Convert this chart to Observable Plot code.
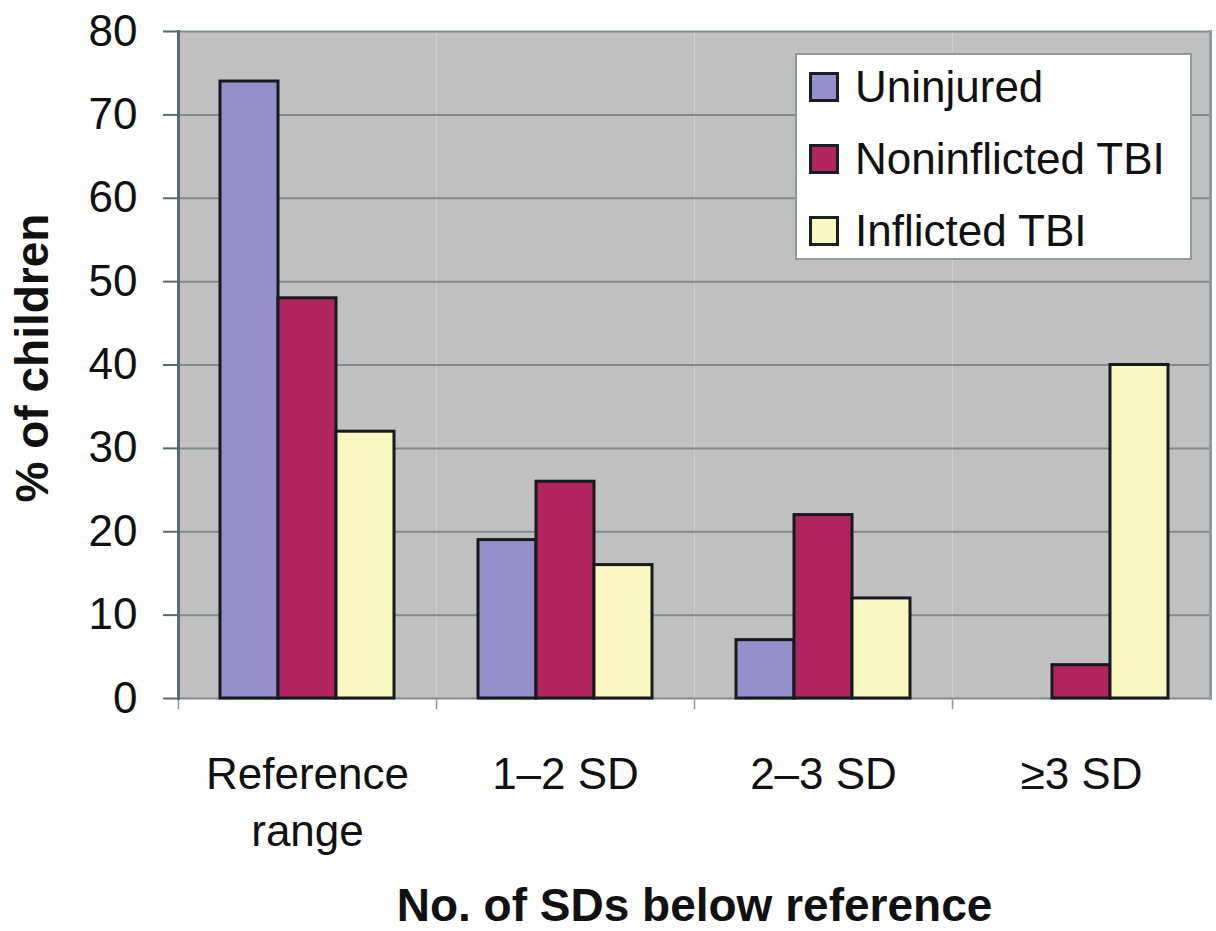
<!DOCTYPE html>
<html>
<head>
<meta charset="utf-8">
<script src="https://cdn.jsdelivr.net/npm/d3@7"></script>
<script src="https://cdn.jsdelivr.net/npm/@observablehq/plot@0.6"></script>
<style>
  html, body { margin: 0; padding: 0; background: #fff; }
  #wrap { position: relative; width: 1216px; height: 931px; font-family: "Liberation Sans", Arial, sans-serif; }
  #legend { position: absolute; left: 795px; top: 53px; width: 393px; height: 203px;
            background: #fff; border: 2px solid #8c9ba2; box-sizing: content-box; }
  .row { position: absolute; left: 0; height: 60px; display: flex; align-items: center; }
  .sw { width: 24px; height: 24px; border: 3px solid #1a1f22; margin-left: 12px; margin-right: 16px; }
  .lab { font-size: 44px; color: #111; white-space: nowrap; }
</style>
</head>
<body>
<div id="wrap"><div id="legend"></div></div>
<script>
const categories = ["Reference range", "1–2 SD", "2–3 SD", "≥3 SD"];
const series = ["Uninjured", "Noninflicted TBI", "Inflicted TBI"];
const uninjured = [74, 19, 7, 0];
const noninflicted = [48, 26, 22, 4];
const inflicted = [32, 16, 12, 40];
const yTicks = [0, 10, 20, 30, 40, 50, 60, 70, 80];
const colors = ["#9590c9", "#b0245f", "#fbf7c1"];
const xTitle = "No. of SDs below reference";
const yTitle = "% of children";

const values = [uninjured, noninflicted, inflicted];
const data = [];
categories.forEach((c, i) => series.forEach((s, j) => data.push({category: c, series: s, value: values[j][i]})));

const font = "Liberation Sans, Arial, sans-serif";

const chart = Plot.plot({
  width: 1216,
  height: 931,
  marginLeft: 178,
  marginRight: 6,
  marginTop: 31,
  marginBottom: 233,
  style: {fontFamily: font, background: "transparent"},
  fx: {domain: categories, padding: 0, label: null},
  x: {domain: series, paddingInner: 0, paddingOuter: 0.724, axis: null},
  y: {domain: [0, 80], label: null},
  color: {domain: series, range: colors},
  marks: [
    Plot.frame({fill: "#c0c0c0"}),
    Plot.gridY(yTicks, {stroke: "#7e8b92", strokeOpacity: 1, strokeWidth: 2}),
    Plot.frame({anchor: "right", fx: [categories[3]], stroke: "#8c9ba2", strokeWidth: 3}),
    Plot.frame({anchor: "left", stroke: "#8c9ba2", strokeWidth: 1.5, insetTop: 667, insetBottom: -10}),
    Plot.barY(data.filter(d => d.value > 0), {
      fx: "category", x: "series", y: "value", fill: "series",
      stroke: "#151a1c", strokeWidth: 3
    }),
    Plot.frame({anchor: "left", fx: [categories[0]], stroke: "#566a72", strokeWidth: 3}),
    Plot.axisY(yTicks, {
      tickSize: 15, tickPadding: 26, fontSize: 44, stroke: "#566a72", strokeWidth: 2,
      fill: "#111", label: null
    }),
    Plot.axisFx({
      anchor: "bottom", tickSize: 0, tickPadding: 50, fontSize: 44, fill: "#111",
      lineHeight: 1.3, label: null,
      tickFormat: d => d === "Reference range" ? "Reference\nrange" : d
    }),
    Plot.text([yTitle], {
      fx: [categories[0]], frameAnchor: "left", textAnchor: "middle", rotate: -90, dx: -145, dy: -7,
      fontSize: 46, fontWeight: "bold", fill: "#111"
    }),
    Plot.text([xTitle], {
      fx: [categories[2]], frameAnchor: "bottom-left", textAnchor: "middle", dy: 222,
      fontSize: 46, fontWeight: "bold", fill: "#111"
    })
  ]
});

document.getElementById("wrap").prepend(chart);

const legend = document.getElementById("legend");
series.forEach((s, j) => {
  const row = document.createElement("div");
  row.className = "row";
  row.style.top = (2 + j * 72) + "px";
  const sw = document.createElement("div");
  sw.className = "sw";
  sw.style.background = colors[j];
  const lab = document.createElement("div");
  lab.className = "lab";
  lab.textContent = s;
  row.appendChild(sw);
  row.appendChild(lab);
  legend.appendChild(row);
});
</script>
</body>
</html>
